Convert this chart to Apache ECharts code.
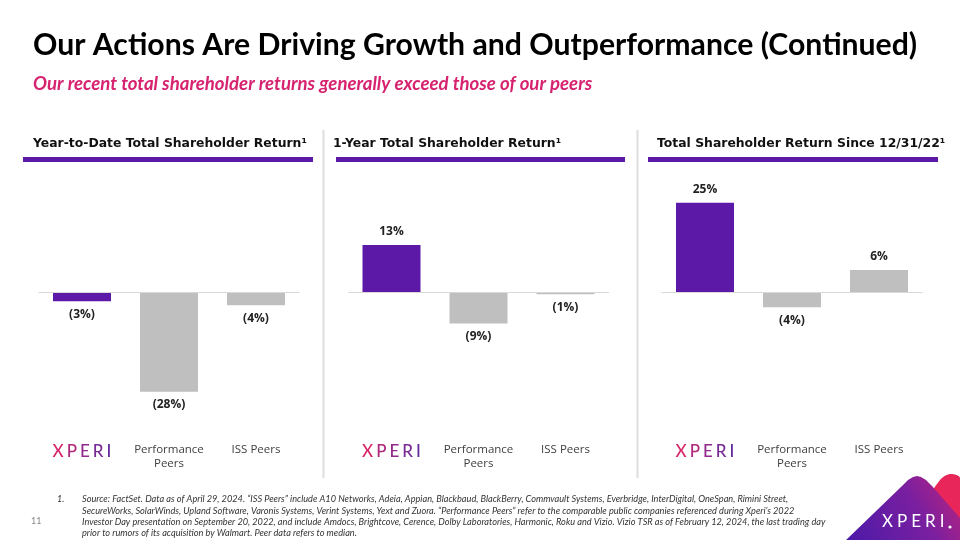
<!DOCTYPE html>
<html><head><meta charset="utf-8">
<script src="https://cdn.jsdelivr.net/npm/echarts@6/dist/echarts.min.js"></script>
<style>html,body{margin:0;padding:0;background:#fff}#c{width:960px;height:540px}</style>
</head><body><div id="c"></div>
<script>
const categories = ['XPERI', 'Performance\nPeers', 'ISS Peers'];
const panelTitles = ['Year-to-Date Total Shareholder Return\u00B9', '1-Year Total Shareholder Return\u00B9', 'Total Shareholder Return Since 12/31/22\u00B9'];
const ytdValues = [-2.6, -28, -3.7];
const ytdLabels = ['(3%)', '(28%)', '(4%)'];
const oneYearValues = [13.2, -8.8, -0.6];
const oneYearLabels = ['13%', '(9%)', '(1%)'];
const sinceValues = [25, -4.3, 6.2];
const sinceLabels = ['25%', '(4%)', '6%'];

const PURPLE = '#5c18a6', GRAY = '#bfbfbf';
const FONT = 'Lato, "Noto Sans", sans-serif';
const WFONT = '"Open Sans", "Noto Sans", sans-serif';
const DFONT = '"DejaVu Sans", sans-serif';
const chart = echarts.init(document.getElementById('c'));

const gridsX = [38.5, 348, 661.5];
const allValues = [ytdValues, oneYearValues, sinceValues];
const allLabels = [ytdLabels, oneYearLabels, sinceLabels];

const richLetter = (c, last) => ({color: c, fontSize: 17, fontFamily: FONT, fontWeight: 500, padding: [0, last ? 0 : 3, 0, 0], lineHeight: 18});
const grids = gridsX.map(l => ({left: l, width: 261, top: 185, height: 214}));
const xAxes = gridsX.map((l, i) => ({
  type: 'category', gridIndex: i, data: categories,
  axisLine: {show: false, onZero: false}, axisTick: {show: false},
  axisLabel: {
    interval: 0, margin: 44, fontFamily: WFONT, fontSize: 11.5, color: '#404040', lineHeight: 14,
    verticalAlign: 'top',
    formatter: v => v === 'XPERI' ? '{x|X}{p|P}{e|E}{r|R}{i|I}' : v,
    rich: {x: richLetter('#d8266a'), p: richLetter('#b0287c'), e: richLetter('#912a8a'), r: richLetter('#782b95'), i: richLetter('#622c9c', true)}
  }
}));
const yAxes = gridsX.map((l, i) => ({
  type: 'value', gridIndex: i, min: -30, max: 30, show: false, splitLine: {show: false}
}));
const series = allValues.map((vals, i) => ({
  type: 'bar', xAxisIndex: i, yAxisIndex: i, barWidth: 58,
  data: vals.map((v, j) => ({
    value: v,
    itemStyle: {color: j === 0 ? PURPLE : GRAY},
    label: {position: v < 0 ? 'bottom' : 'top'}
  })),
  label: {
    show: true, distance: 7, fontFamily: WFONT, fontSize: 12, fontWeight: 'bold', color: '#222',
    formatter: p => allLabels[i][p.dataIndex]
  },
  markLine: {
    silent: true, symbol: 'none', label: {show: false},
    lineStyle: {color: '#d9d9d9', width: 1, type: 'solid'},
    data: [{yAxis: 0}]
  }
}));

const footLines = [
  'Source: FactSet. Data as of April 29, 2024. \u201CISS Peers\u201D include A10 Networks, Adeia, Appian, Blackbaud, BlackBerry, Commvault Systems, Everbridge, InterDigital, OneSpan, Rimini Street,',
  'SecureWorks, SolarWinds, Upland Software, Varonis Systems, Verint Systems, Yext and Zuora. \u201CPerformance Peers\u201D refer to the comparable public companies referenced during Xperi\u2019s 2022',
  'Investor Day presentation on September 20, 2022, and include Amdocs, Brightcove, Cerence, Dolby Laboratories, Harmonic, Roku and Vizio. Vizio TSR as of February 12, 2024, the last trading day',
  'prior to rumors of its acquisition by Walmart. Peer data refers to median.'
];

function txt(x, y, text, font, fill) {
  return {type: 'text', x: x, y: y, style: {text: text, font: font, fill: fill, textVerticalAlign: 'top'}};
}
const graphic = [
  txt(33, 30, 'Our Actions Are Driving Growth and Outperformance (Continued)', 'bold 30.2px ' + FONT, '#000'),
  txt(33, 74, 'Our recent total shareholder returns generally exceed those of our peers', 'italic bold 18.6px ' + FONT, '#d6226f'),
  {type: 'line', shape: {x1: 323.5, y1: 130, x2: 323.5, y2: 478}, style: {stroke: '#dedede', lineWidth: 2}},
  {type: 'line', shape: {x1: 637.5, y1: 130, x2: 637.5, y2: 478}, style: {stroke: '#dedede', lineWidth: 2}}
];
const barX = [[23, 313], [336, 625], [648, 938]];
const titleX = [33, 333, 657];
panelTitles.forEach((t, i) => {
  graphic.push(txt(titleX[i], 138, t, 'bold 12.4px ' + DFONT, '#111'));
  graphic.push({type: 'rect', shape: {x: barX[i][0], y: 157, width: barX[i][1] - barX[i][0], height: 5}, style: {fill: PURPLE}});
});
footLines.forEach((t, i) => {
  graphic.push(txt(82, 495 + i * 11.3, t, 'italic 9.2px ' + FONT, '#333'));
});
graphic.push(txt(57, 495, '1.', 'italic 9px ' + FONT, '#333'));
graphic.push(txt(31, 517, '11', '9px ' + FONT, '#888'));
graphic.push({type: 'polygon', shape: {points: [[926, 505], [940, 480], [950, 474], [960, 478], [960, 540], [930, 540]], smooth: 0.3}, style: {fill: '#e8265a'}});
graphic.push({type: 'polygon', shape: {points: [[845, 541], [902, 486], [908, 480], [913, 477], [917, 476], [921, 477], [926, 480], [932, 486], [960, 518], [960, 541]]},
  style: {fill: {type: 'linear', x: 0, y: 1, x2: 1, y2: 0, colorStops: [{offset: 0, color: '#4a1aa8'}, {offset: 0.6, color: '#7a1fa0'}, {offset: 1, color: '#c0247a'}]}}});
graphic.push({type: 'text', x: 882, y: 513, style: {text: '{a|X}{a|P}{a|E}{a|R}{b|I}', fill: '#fff', textVerticalAlign: 'top',
  rich: {a: {fontSize: 17, fontFamily: FONT, fill: '#fff', color: '#fff', padding: [0, 4, 0, 0]}, b: {fontSize: 17, fontFamily: FONT, fill: '#fff', color: '#fff'}}}});
graphic.push({type: 'circle', shape: {cx: 950, cy: 527, r: 1.6}, style: {fill: '#fff'}});

chart.setOption({animation: false, grid: grids, xAxis: xAxes, yAxis: yAxes, series: series, graphic: {elements: graphic}});
</script></body></html>
